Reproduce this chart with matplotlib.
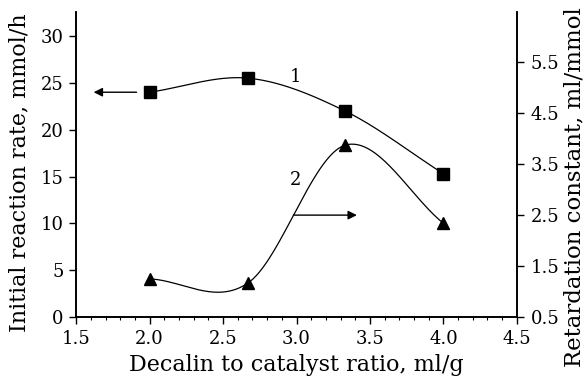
import numpy as np
import matplotlib.pyplot as plt
from matplotlib.ticker import MultipleLocator

# Data
ratio = [2.0, 2.67, 3.33, 4.0]
rate = [24.0, 25.5, 22.0, 15.3]          # curve 1, left axis (mmol/h)
retardation = [1.25, 1.17, 3.87, 2.34]   # curve 2, right axis (ml/mmol)

x_ticks = [1.5, 2.0, 2.5, 3.0, 3.5, 4.0, 4.5]
left_ticks = [0, 5, 10, 15, 20, 25, 30]
right_ticks = [0.5, 1.5, 2.5, 3.5, 4.5, 5.5]


def smooth_curve(x, y, n=60):
    """Catmull-Rom style Hermite curve through the points (hand-drawn look)."""
    x = np.asarray(x, float)
    y = np.asarray(y, float)
    m = np.gradient(y, x, edge_order=1)
    m[1:-1] = (y[2:] - y[:-2]) / (x[2:] - x[:-2])
    xs_all, ys_all = [], []
    for i in range(len(x) - 1):
        h = x[i + 1] - x[i]
        t = np.linspace(0, 1, n)
        h00 = 2 * t ** 3 - 3 * t ** 2 + 1
        h10 = t ** 3 - 2 * t ** 2 + t
        h01 = -2 * t ** 3 + 3 * t ** 2
        h11 = t ** 3 - t ** 2
        xs_all.append(x[i] + t * h)
        ys_all.append(h00 * y[i] + h10 * h * m[i] + h01 * y[i + 1] + h11 * h * m[i + 1])
    return np.concatenate(xs_all), np.concatenate(ys_all)


plt.rcParams["font.family"] = ["DejaVu Serif"]
plt.rcParams["font.size"] = 13

fig = plt.figure(figsize=(5.86, 3.78), dpi=100)
ax = fig.add_axes([0.130, 0.161, 0.752, 0.807])
ax2 = ax.twinx()

# curve 1
xs, ys = smooth_curve(ratio, rate)
ax.plot(xs, ys, color="black", lw=0.9)
ax.plot(ratio, rate, "s", color="black", ms=8.5)

# curve 2
xs2, ys2 = smooth_curve(ratio, retardation)
ax2.plot(xs2, ys2, color="black", lw=0.9)
ax2.plot(ratio, retardation, "^", color="black", ms=9)

# arrows pointing at the axis each curve belongs to
ax.annotate("", xy=(1.6, 24.0), xytext=(1.93, 24.0),
            arrowprops=dict(arrowstyle="-|>", color="black", lw=1.0,
                            mutation_scale=13))
ax2.annotate("", xy=(3.43, 2.5), xytext=(2.96, 2.5),
             arrowprops=dict(arrowstyle="-|>", color="black", lw=1.0,
                             mutation_scale=13))

ax.text(2.99, 25.6, "1", ha="center", va="center", fontsize=13)
ax.text(2.99, 14.6, "2", ha="center", va="center", fontsize=13)

ax.set_xlim(1.5, 4.5)
ax.set_ylim(0, 32.55)
ax2.set_ylim(0.5, 6.48)

ax.set_xticks(x_ticks)
ax.set_xticklabels([f"{v:.1f}" for v in x_ticks])
ax.xaxis.set_minor_locator(MultipleLocator(0.1))
ax.set_yticks(left_ticks)
ax2.set_yticks(right_ticks)
ax2.set_yticklabels([f"{v:.1f}" for v in right_ticks])

for a in (ax, ax2):
    a.spines["top"].set_visible(False)
    for s in a.spines.values():
        s.set_linewidth(1.2)
ax.tick_params(axis="both", which="major", direction="out", length=5,
               width=1.0, pad=4)
ax.tick_params(axis="x", which="minor", direction="out", length=2.5,
               width=0.8)
ax2.tick_params(axis="y", which="major", direction="out", length=5,
                width=1.0, pad=5)

fig.text(0.505, 0.034, "Decalin to catalyst ratio, ml/g", ha="center",
         va="center", fontsize=16)
fig.text(0.034, 0.542, "Initial reaction rate, mmol/h", ha="center",
         va="center", rotation=90, fontsize=16)
fig.text(0.981, 0.505, "Retardation constant, ml/mmol", ha="center",
         va="center", rotation=90, fontsize=16.5)

fig.savefig("out.png", dpi=100)
